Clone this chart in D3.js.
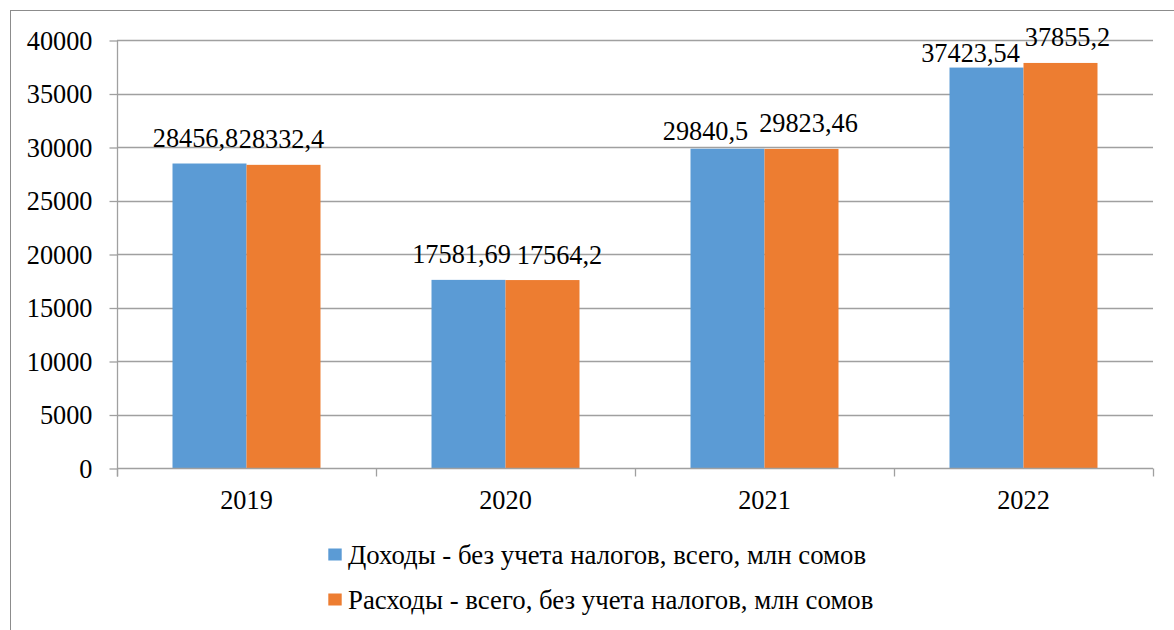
<!DOCTYPE html>
<html>
<head>
<meta charset="utf-8">
<script src="https://cdn.jsdelivr.net/npm/d3@7"></script>
<style>
  html, body { margin: 0; padding: 0; background: #fff; overflow: hidden; }
  svg { display: block; }
</style>
</head>
<body>
<svg id="chart" width="1174" height="630"></svg>
<script>
// ---- data ----
const categories = ["2019", "2020", "2021", "2022"];
const seriesNames = [
  "Доходы - без учета налогов, всего, млн сомов",
  "Расходы - всего, без учета налогов, млн сомов"
];
const incomeValues = [28456.8, 17581.69, 29840.5, 37423.54];
const expenseValues = [28332.4, 17564.2, 29823.46, 37855.2];
const incomeLabels = ["28456,8", "17581,69", "29840,5", "37423,54"];
const expenseLabels = ["28332,4", "17564,2", "29823,46", "37855,2"];
const yTicks = [0, 5000, 10000, 15000, 20000, 25000, 30000, 35000, 40000];

// ---- layout / style ----
const colors = ["#5b9bd5", "#ed7d31"];
const plot = { left: 117, right: 1153, top: 40, bottom: 468 };
const fontSize = "26.3px";
const legendFontSize = "26.8px";
const fontFamily = "'Liberation Serif', 'Times New Roman', serif";
const gridColor = "#a0a0a0";
// manual label nudges (as in the reference), [dx, dy] per series per category
const labelNudge = [
  [[-14, 0], [-7, 0], [-22, 8], [-16, 11]],
  [[-2, 0], [17, 0], [7, 0], [7, 0]]
];

function styleText(sel, size) {
  return sel.style("font-family", fontFamily).style("font-size", size || fontSize).style("fill", "#000");
}

const svg = d3.select("#chart");

// outer chart border
svg.append("rect")
  .attr("x", 10.5).attr("y", 10.5)
  .attr("width", 1200).attr("height", 700)
  .attr("fill", "none").attr("stroke", "#8c8c8c").attr("stroke-width", 1);

const x = d3.scaleBand().domain(categories).range([plot.left, plot.right]).padding(0);
const bw = x.bandwidth();
const xs = d3.scaleBand().domain([0, 1]).range([bw * 0.2143, bw * (1 - 0.2143)]).padding(0);
const y = d3.scaleLinear().domain([0, 40000]).range([plot.bottom, plot.top]);

// gridlines
svg.append("g").selectAll("line").data(yTicks.filter(d => d > 0)).join("line")
  .attr("x1", plot.left).attr("x2", plot.right)
  .attr("y1", d => Math.round(y(d)) + 0.5).attr("y2", d => Math.round(y(d)) + 0.5)
  .attr("stroke", gridColor).attr("stroke-width", 1.3);

// y axis
const yAxis = d3.axisLeft(y).tickValues(yTicks).tickSize(8).tickPadding(17).tickFormat(d3.format("d"));
const gy = svg.append("g").attr("transform", `translate(${plot.left + 0.5},0.5)`).call(yAxis);
gy.select(".domain").attr("d", `M0,${plot.top}V${plot.bottom + 8}`).attr("stroke", gridColor).attr("stroke-width", 1.3);
gy.selectAll(".tick line").attr("stroke", gridColor).attr("stroke-width", 1.3);
styleText(gy.selectAll(".tick text")).attr("dy", "0.34em");

// bars
const series = [incomeValues, expenseValues];
const labels = [incomeLabels, expenseLabels];
series.forEach((vals, si) => {
  svg.append("g").selectAll("rect").data(categories).join("rect")
    .attr("x", (c) => x(c) + xs(si))
    .attr("width", xs.bandwidth())
    .attr("y", (c, i) => y(vals[i]))
    .attr("height", (c, i) => y(0) - y(vals[i]))
    .attr("fill", colors[si]);
});

// x axis
const gx = svg.append("g").attr("transform", `translate(0,${plot.bottom + 0.5})`);
gx.append("line").attr("x1", plot.left).attr("x2", plot.right).attr("y1", 0).attr("y2", 0)
  .attr("stroke", gridColor).attr("stroke-width", 1.3);
const bounds = categories.map(c => x(c)).concat([plot.right]);
gx.selectAll("line.tk").data(bounds).join("line").attr("class", "tk")
  .attr("x1", d => Math.round(d) + 0.5).attr("x2", d => Math.round(d) + 0.5)
  .attr("y1", 0).attr("y2", 8).attr("stroke", gridColor).attr("stroke-width", 1.3);
styleText(gx.selectAll("text.cat").data(categories).join("text").attr("class", "cat")
  .attr("x", c => x(c) + bw / 2).attr("y", 40)
  .attr("text-anchor", "middle").text(c => c));

// data labels
series.forEach((vals, si) => {
  styleText(svg.append("g").selectAll("text").data(categories).join("text")
    .attr("x", (c, i) => x(c) + xs(si) + xs.bandwidth() / 2 + labelNudge[si][i][0])
    .attr("y", (c, i) => y(vals[i]) - 16.5 + labelNudge[si][i][1])
    .attr("text-anchor", "middle")
    .text((c, i) => labels[si][i]));
});

// legend
const legend = svg.append("g");
seriesNames.forEach((name, si) => {
  const by = 563.5 + si * 45;
  legend.append("rect").attr("x", 328.3).attr("y", by - 15).attr("width", 13.4).attr("height", 12).attr("fill", colors[si]);
  styleText(legend.append("text").attr("x", 348).attr("y", by).text(name), legendFontSize);
});
</script>
</body>
</html>
